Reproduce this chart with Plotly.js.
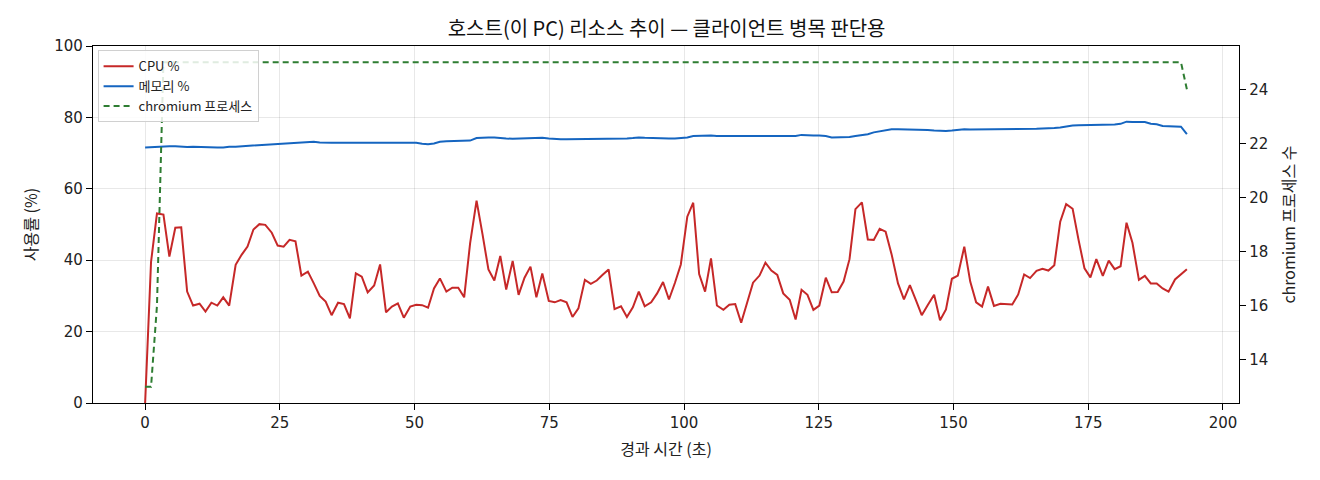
<!DOCTYPE html>
<html>
<head>
<meta charset="utf-8">
<script src="https://cdn.plot.ly/plotly-3.0.1.min.js"></script>
<style>
  html, body { margin: 0; padding: 0; background: #fff; }
  #chart { width: 1320px; height: 480px; }
</style>
</head>
<body>
<div id="chart"></div>
<script>
// sample times (s)
let elapsedSec = [
  0.0, 1.1, 2.2, 3.4, 4.5, 5.6, 6.7, 7.8, 8.9, 10.1,
  11.2, 12.3, 13.4, 14.5, 15.6, 16.8, 17.9, 19.0, 20.1, 21.2,
  22.3, 23.5, 24.6, 25.7, 26.8, 27.9, 29.0, 30.2, 31.3, 32.4,
  33.5, 34.6, 35.8, 36.9, 38.0, 39.1, 40.2, 41.3, 42.5, 43.6,
  44.7, 45.8, 46.9, 48.0, 49.2, 50.3, 51.4, 52.5, 53.6, 54.7,
  55.9, 57.0, 58.1, 59.2, 60.3, 61.5, 62.6, 63.7, 64.8, 65.9,
  67.0, 68.2, 69.3, 70.4, 71.5, 72.6, 73.7, 74.9, 76.0, 77.1,
  78.2, 79.3, 80.4, 81.6, 82.7, 83.8, 84.9, 86.0, 87.1, 88.3,
  89.4, 90.5, 91.6, 92.7, 93.9, 95.0, 96.1, 97.2, 98.3, 99.4,
  100.6, 101.7, 102.8, 103.9, 105.0, 106.1, 107.3, 108.4, 109.5, 110.6,
  111.7, 112.8, 114.0, 115.1, 116.2, 117.3, 118.4, 119.6, 120.7, 121.8,
  122.9, 124.0, 125.1, 126.3, 127.4, 128.5, 129.6, 130.7, 131.8, 133.0,
  134.1, 135.2, 136.3, 137.4, 138.5, 139.7, 140.8, 141.9, 143.0, 144.1,
  145.2, 146.4, 147.5, 148.6, 149.7, 150.8, 152.0, 153.1, 154.2, 155.3,
  156.4, 157.5, 158.7, 159.8, 160.9, 162.0, 163.1, 164.2, 165.4, 166.5,
  167.6, 168.7, 169.8, 170.9, 172.1, 173.2, 174.3, 175.4, 176.5, 177.7,
  178.8, 179.9, 181.0, 182.1, 183.2, 184.4, 185.5, 186.6, 187.7, 188.8,
  189.9, 191.1, 192.2, 193.3
];

let cpuPct = [
  0, 39.5, 53.1, 52.8, 41.0, 49.1, 49.2, 31.2, 27.3, 27.8,
  25.6, 28.1, 27.3, 29.6, 27.3, 38.7, 41.5, 43.8, 48.6, 50.1,
  49.9, 47.7, 44.1, 43.8, 45.7, 45.3, 35.7, 36.8, 33.5, 30.0,
  28.4, 24.6, 28.1, 27.7, 23.7, 36.3, 35.4, 31.0, 32.9, 38.8,
  25.4, 27.0, 27.9, 23.9, 27.0, 27.5, 27.4, 26.7, 32.1, 34.9,
  31.2, 32.3, 32.3, 29.6, 44.7, 56.7, 47.3, 37.4, 34.3, 41.2,
  31.8, 39.8, 30.3, 35.1, 38.2, 29.6, 36.3, 28.6, 28.2, 28.8,
  28.2, 24.1, 26.5, 34.5, 33.4, 34.3, 35.9, 37.4, 26.3, 27.1,
  24.1, 26.8, 31.2, 27.1, 28.2, 30.7, 33.9, 29.0, 33.6, 38.8,
  52.2, 56.1, 36.1, 31.2, 40.5, 27.3, 26.1, 27.5, 27.7, 22.5,
  28.1, 33.7, 35.7, 39.3, 37.1, 35.9, 30.7, 28.9, 23.4, 31.7,
  30.3, 26.1, 27.3, 35.1, 31.0, 31.1, 34.0, 40.3, 54.3, 56.2,
  45.8, 45.7, 48.8, 48.0, 41.7, 33.5, 29.0, 33.0, 28.9, 24.6,
  27.4, 30.3, 23.2, 26.2, 34.8, 35.7, 43.8, 34.0, 28.2, 27.0,
  32.6, 27.2, 27.8, 27.8, 27.6, 30.4, 36.0, 35.0, 37.0, 37.6,
  37.1, 38.6, 50.8, 55.7, 54.4, 45.7, 37.7, 35.2, 40.3, 35.6,
  39.9, 37.5, 38.3, 50.5, 44.9, 34.5, 35.6, 33.5, 33.5, 32.1,
  31.2, 34.6, 36.1, 37.5
];

let memPct = [
  71.6, 71.7, 71.7, 71.8, 71.9, 71.9, 71.7, 71.7, 71.8, 71.7,
  71.7, 71.6, 71.6, 71.6, 71.8, 71.8, 71.9, 72.1, 72.3, 72.4,
  72.5, 72.6, 72.7, 72.7, 72.8, 72.8, 72.9, 73.1, 73.2, 73.0,
  72.9, 72.9, 72.9, 72.9, 73.0, 73.0, 73.1, 73.1, 73.1, 73.0,
  73.0, 73.0, 73.0, 72.9, 72.9, 72.9, 72.6, 72.5, 72.7, 73.2,
  73.3, 73.3, 73.4, 73.4, 73.5, 74.2, 74.4, 74.4, 74.4, 74.2,
  74.1, 74.0, 74.1, 74.2, 74.3, 74.2, 74.3, 74.1, 73.9, 73.9,
  73.9, 73.9, 73.9, 73.9, 74.0, 74.1, 74.1, 74.1, 74.1, 74.1,
  74.1, 74.2, 74.4, 74.3, 74.2, 74.2, 74.2, 74.1, 74.1, 74.2,
  74.4, 74.8, 74.9, 74.9, 74.9, 74.8, 74.8, 74.8, 74.7, 74.7,
  74.7, 74.7, 74.8, 74.8, 74.8, 74.8, 74.8, 74.8, 74.8, 75.1,
  74.9, 74.9, 74.9, 74.8, 74.4, 74.4, 74.4, 74.5, 74.8, 75.0,
  75.3, 75.8, 76.1, 76.4, 76.7, 76.7, 76.7, 76.7, 76.7, 76.6,
  76.5, 76.3, 76.2, 76.2, 76.3, 76.5, 76.7, 76.6, 76.6, 76.6,
  76.6, 76.7, 76.7, 76.7, 76.7, 76.7, 76.8, 76.8, 76.8, 76.9,
  76.9, 77.0, 77.2, 77.5, 77.7, 77.8, 77.8, 77.9, 77.9, 77.8,
  77.9, 78.0, 78.2, 78.8, 78.7, 78.7, 78.7, 78.2, 78.1, 77.6,
  77.5, 77.6, 77.4, 75.3
];

let chromiumProcs = [
  13, 13, 16, 25, 25, 25, 25, 25, 25, 25,
  25, 25, 25, 25, 25, 25, 25, 25, 25, 25,
  25, 25, 25, 25, 25, 25, 25, 25, 25, 25,
  25, 25, 25, 25, 25, 25, 25, 25, 25, 25,
  25, 25, 25, 25, 25, 25, 25, 25, 25, 25,
  25, 25, 25, 25, 25, 25, 25, 25, 25, 25,
  25, 25, 25, 25, 25, 25, 25, 25, 25, 25,
  25, 25, 25, 25, 25, 25, 25, 25, 25, 25,
  25, 25, 25, 25, 25, 25, 25, 25, 25, 25,
  25, 25, 25, 25, 25, 25, 25, 25, 25, 25,
  25, 25, 25, 25, 25, 25, 25, 25, 25, 25,
  25, 25, 25, 25, 25, 25, 25, 25, 25, 25,
  25, 25, 25, 25, 25, 25, 25, 25, 25, 25,
  25, 25, 25, 25, 25, 25, 25, 25, 25, 25,
  25, 25, 25, 25, 25, 25, 25, 25, 25, 25,
  25, 25, 25, 25, 25, 25, 25, 25, 25, 25,
  25, 25, 25, 25, 25, 25, 25, 25, 25, 25,
  25, 25, 25, 24
];

let xTicks = [0, 25, 50, 75, 100, 125, 150, 175, 200];
let yTicks = [0, 20, 40, 60, 80, 100];
let y2Ticks = [14, 16, 18, 20, 22, 24];

let font = '"Noto Sans CJK KR", "Noto Sans", sans-serif';
let tickFont = '"DejaVu Sans", "Noto Sans CJK KR", sans-serif';

let cpuTrace = {
  x: elapsedSec,
  y: cpuPct,
  name: 'CPU %',
  mode: 'lines',
  line: { color: '#c62828', width: 2 }
};

let memTrace = {
  x: elapsedSec,
  y: memPct,
  name: '메모리 %',
  mode: 'lines',
  line: { color: '#1565c0', width: 2 }
};

let procTrace = {
  x: elapsedSec,
  y: chromiumProcs,
  name: 'chromium 프로세스',
  mode: 'lines',
  yaxis: 'y2',
  line: { color: '#2e7d32', width: 2, dash: '6px,4px' }
};

let axisCommon = {
  showline: true,
  linecolor: '#000',
  linewidth: 1.2,
  ticks: 'outside',
  ticklen: 6,
  tickcolor: '#000',
  tickfont: { family: tickFont, size: 15, color: '#222' },
  zeroline: false
};

let layout = {
  width: 1320,
  height: 480,
  paper_bgcolor: '#fff',
  plot_bgcolor: '#fff',
  margin: { l: 93, r: 81, t: 46, b: 77 },
  font: { family: font, color: '#222' },
  title: {
    text: '호스트(이 PC) 리소스 추이 — 클라이언트 병목 판단용',
    font: { family: font, size: 20, color: '#111' },
    x: 0.505,
    xanchor: 'center',
    y: 0.94,
    yanchor: 'middle'
  },
  showlegend: true,
  legend: {
    x: 0.004,
    y: 0.988,
    xanchor: 'left',
    yanchor: 'top',
    bgcolor: 'rgba(255,255,255,0.85)',
    bordercolor: '#d0d0d0',
    borderwidth: 1,
    font: { family: font, size: 13, color: '#222' },
    itemwidth: 30,
    tracegroupgap: 2
  },
  xaxis: Object.assign({}, axisCommon, {
    range: [-9.67, 202.97],
    tickvals: xTicks,
    mirror: true,
    showgrid: true,
    gridcolor: 'rgba(0,0,0,0.09)',
    title: { text: '경과 시간 (초)', font: { family: font, size: 16, color: '#222' }, standoff: 12 }
  }),
  yaxis: Object.assign({}, axisCommon, {
    range: [0, 100],
    tickvals: yTicks,
    showgrid: true,
    gridcolor: 'rgba(0,0,0,0.09)',
    title: { text: '사용률 (%)', font: { family: font, size: 16, color: '#222' }, standoff: 12 }
  }),
  yaxis2: Object.assign({}, axisCommon, {
    overlaying: 'y',
    side: 'right',
    range: [12.4, 25.6],
    tickvals: y2Ticks,
    showgrid: false,
    title: { text: 'chromium 프로세스 수', font: { family: font, size: 16, color: '#222' }, standoff: 16 }
  })
};

Plotly.newPlot(document.getElementById('chart'), [cpuTrace, memTrace, procTrace], layout, { displayModeBar: false, staticPlot: true });
</script>
</body>
</html>
